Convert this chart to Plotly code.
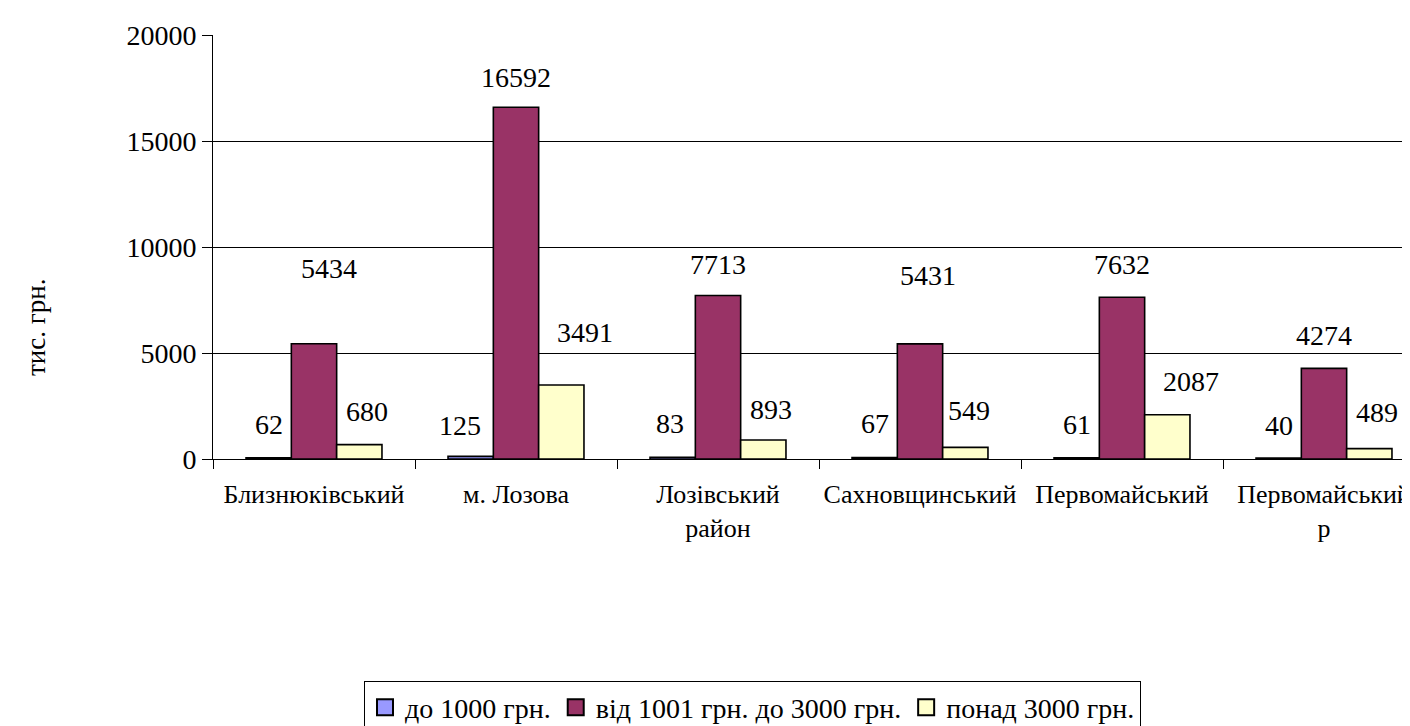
import plotly.graph_objects as go

categories = ["Близнюківський", "м. Лозова", "Лозівський<br>район", "Сахновщинський", "Первомайський", "Первомайський<br>р"]
series_names = ["до 1000 грн.", "від 1001 грн. до 3000 грн.", "понад 3000 грн."]
s1 = [62, 125, 83, 67, 61, 40]
s2 = [5434, 16592, 7713, 5431, 7632, 4274]
s3 = [680, 3491, 893, 549, 2087, 489]
colors = ["#9999FF", "#993366", "#FFFFCC"]
ytick_vals = [0, 5000, 10000, 15000, 20000]
ytick_text = ["0", "5000", "10000", "15000", "20000"]

# label offsets (px) as in the reference
label_dy = [[33, 31, 34, 34, 33, 33],
            [75, 30, 31, 68, 33, 33],
            [33, 52, 31, 37, 33, 36]]
label_dx = [[0, -11, -3, 0, 0, 0],
            [15, 0, 0, 8, 0, 0],
            [8, 24, 8, 4, 24, 8]]

FONT = "Liberation Serif, Times New Roman, serif"
bargap = 0.327

fig = go.Figure()
all_series = [s1, s2, s3]
for name, vals, col in zip(series_names, all_series, colors):
    fig.add_trace(go.Bar(x=list(range(len(categories))), y=vals, name=name, showlegend=False,
                         marker=dict(color=col, line=dict(color="black", width=1.6))))
# legend entries with larger square swatches
for name, col in zip(series_names, colors):
    fig.add_trace(go.Scatter(x=[None], y=[None], mode="markers", name=name,
                             marker=dict(symbol="square", size=16, color=col,
                                         line=dict(color="black", width=2)),
                             showlegend=True, hoverinfo="skip"))

bw = (1 - bargap) / 3
ann = []
for k, vals in enumerate(all_series):
    for i, v in enumerate(vals):
        ann.append(dict(x=i + (k - 1) * bw, y=v, xref="x", yref="y", text=str(v),
                        showarrow=False, yanchor="middle", xanchor="center",
                        yshift=label_dy[k][i], xshift=label_dx[k][i],
                        font=dict(family=FONT, size=28, color="black")))

W, H = 1410, 726
L, R, T, B = 205, 0, 27, 272
plot_w = W - L - R
plot_h = H - T - B
cat_px = 202
ncat_visible = plot_w / cat_px

ann.append(dict(text="тис. грн.", x=(28 - L) / plot_w, y=(H - B - 321) / plot_h,
                xref="paper", yref="paper", showarrow=False, textangle=-90,
                xanchor="center", yanchor="middle",
                font=dict(family=FONT, size=27, color="black")))

fig.update_layout(
    width=W, height=H,
    margin=dict(l=L, r=R, t=T, b=B, pad=0),
    paper_bgcolor="white", plot_bgcolor="white",
    barmode="group", bargap=bargap, bargroupgap=0,
    font=dict(family=FONT, size=26, color="black"),
    annotations=ann,
    showlegend=True,
    legend=dict(orientation="h", x=(356 - L) / plot_w, y=(H - B - 678) / plot_h,
                xanchor="left", yanchor="top",
                bordercolor="black", borderwidth=1,
                font=dict(family=FONT, size=28, color="black"),
                traceorder="normal", itemwidth=30, tracegroupgap=0,
                itemsizing="trace"),
    xaxis=dict(type="linear", range=[-0.5, -0.5 + ncat_visible],
               tickmode="array", tickvals=list(range(len(categories))), ticktext=categories,
               showgrid=False, zeroline=False, showline=False,
               ticks="", ticklabelstandoff=17,
               tickfont=dict(family=FONT, size=26, color="black")),
    yaxis=dict(range=[0, 20000], tickmode="array", tickvals=ytick_vals, ticktext=ytick_text,
               showgrid=True, gridcolor="black", gridwidth=1,
               zeroline=False, showline=True, linecolor="black", linewidth=1,
               ticks="outside", ticklen=10, tickcolor="black",
               tickfont=dict(family=FONT, size=28, color="black")),
    xaxis2=dict(overlaying="x", range=[-0.5, -0.5 + ncat_visible], side="bottom",
                tickmode="array", tickvals=[i - 0.5 for i in range(len(categories) + 1)],
                ticktext=[""] * (len(categories) + 1),
                ticks="outside", ticklen=9, tickcolor="black",
                showgrid=False, zeroline=False, showline=True, linecolor="black", linewidth=1,
                anchor="y"),
)
fig.add_trace(go.Scatter(x=[0], y=[0], xaxis="x2", mode="markers",
                         marker=dict(opacity=0), showlegend=False, hoverinfo="skip"))

fig.write_html("out.html")
